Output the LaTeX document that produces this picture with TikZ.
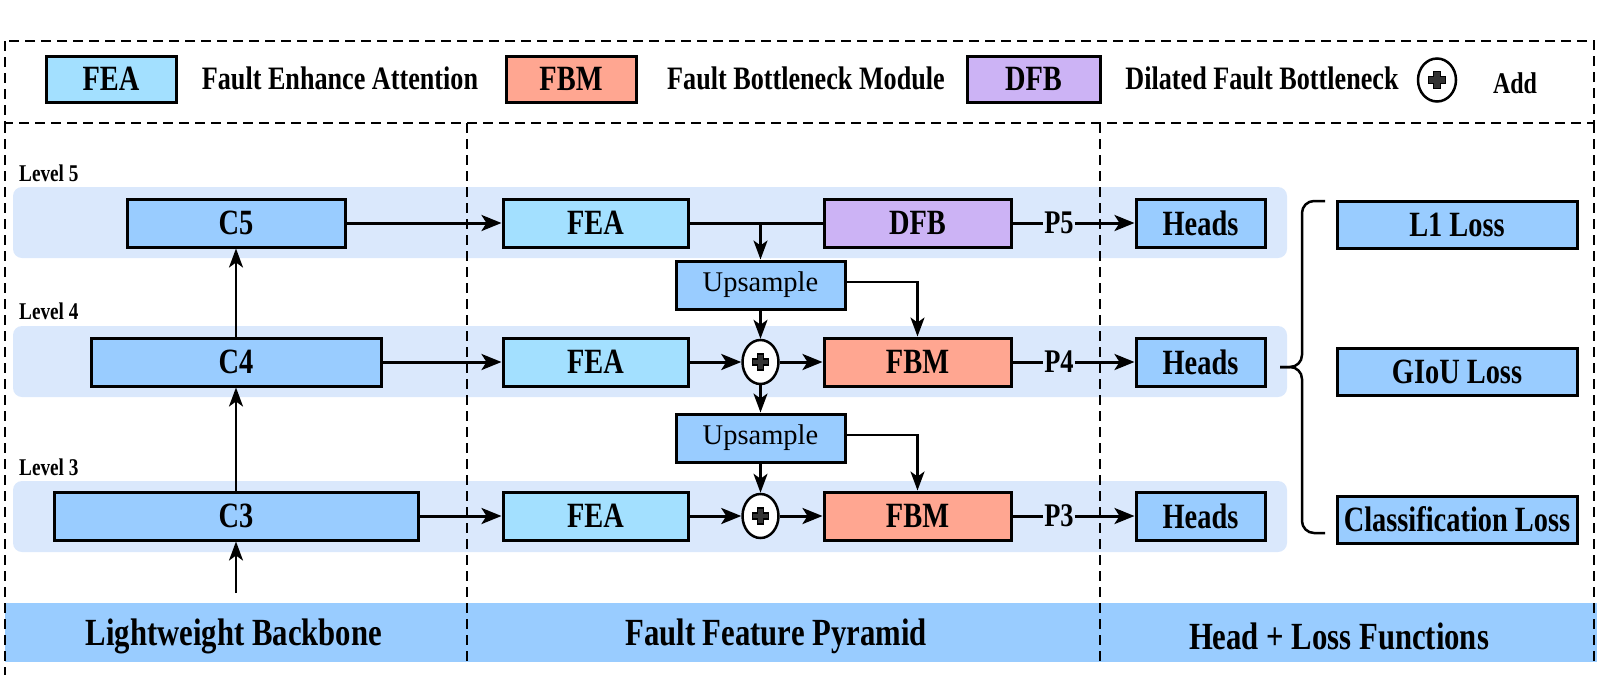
\documentclass[tikz,border=0pt]{standalone}
\usepackage{fontspec}
\setmainfont{Liberation Serif}[BoldFeatures={FakeStretch=0.8}]
\usetikzlibrary{arrows.meta,shapes.geometric}
\definecolor{boxblue}{HTML}{99CCFF}
\definecolor{feacol}{HTML}{A3E0FF}
\definecolor{fbmcol}{HTML}{FFA691}
\definecolor{dfbcol}{HTML}{CCB3F5}
\definecolor{bandcol}{HTML}{DAE8FC}
\newcommand\mkcross[2]{\filldraw[fill=gray!40!black, draw=black, line width=1.2pt, shift={(#1)}, scale=#2]
  (-3,-8) -- (3,-8) -- (3,-3) -- (8,-3) -- (8,3) -- (3,3) -- (3,8) -- (-3,8) -- (-3,3) -- (-8,3) -- (-8,-3) -- (-3,-3) -- cycle;}
\tikzset{
 blk/.style={draw=black, line width=3pt, minimum height=48pt, inner sep=0pt, font=\bfseries\fontsize{35.5}{40}\selectfont},
 bluebox/.style={blk, fill=boxblue},
 feabox/.style={blk, fill=feacol},
 fbmbox/.style={blk, fill=fbmcol},
 dfbbox/.style={blk, fill=dfbcol},
 upbox/.style={draw=black, line width=3pt, fill=boxblue, minimum width=169pt, minimum height=48pt, inner sep=0pt, font=\fontsize{28.5}{32}\selectfont},
 addnode/.style={ellipse, draw=black, line width=2.5pt, fill=white, minimum width=36pt, minimum height=44pt, inner sep=0pt},
 arr/.style={line width=3pt, -{Stealth[length=20pt,width=16pt,inset=5pt]}},
 arrv/.style={line width=2.5pt, -{Stealth[length=19pt,width=14pt,inset=5pt]}},
 ln/.style={line width=3pt},
 divider/.style={dash pattern=on 10pt off 6pt, line width=2.5pt},
 band/.style={fill=bandcol, rounded corners=9pt},
 lvl/.style={anchor=base west, inner sep=0pt, font=\bfseries\fontsize{24}{27}\selectfont},
 plab/.style={inner sep=1pt, font=\bfseries\fontsize{33}{37}\selectfont},
 legtxt/.style={inner sep=0pt, font=\bfseries\fontsize{32.7}{37}\selectfont},
 bottomtxt/.style={inner sep=0pt, font=\bfseries\fontsize{38.4}{43}\selectfont},
}
\begin{document}
\begin{tikzpicture}[x=1pt,y=-1pt]
\useasboundingbox (0,0) rectangle (1600,675);
% bottom band
\fill[boxblue] (5,603) rectangle (1597,662);
% level bands
\fill[band] (13,187) rectangle (1287,258);
\fill[band] (13,326) rectangle (1287,397);
\fill[band] (13,481) rectangle (1287,552);
% dashed frames
\draw[divider] (5,41) rectangle (1594,123);
\draw[divider] (5,123) -- (5,675);
\draw[divider] (1594,123) -- (1594,665);
\draw[divider] (467,123) -- (467,665);
\draw[divider] (1100,123) -- (1100,665);

% legend
\node[feabox, minimum width=130pt, minimum height=46pt] (lfea) at (111,79) {FEA};
\node[legtxt] (tfea) at (340,78) {Fault Enhance Attention};
\node[fbmbox, minimum width=130pt, minimum height=46pt] (lfbm) at (571,79) {FBM};
\node[legtxt] (tfbm) at (806,78) {Fault Bottleneck Module};
\node[dfbbox, minimum width=133pt, minimum height=46pt] (ldfb) at (1033.5,79) {DFB};
\node[legtxt] (tdfb) at (1262,78) {Dilated Fault Bottleneck};
\node[addnode, minimum width=38pt, minimum height=43pt] (ladd) at (1437,80) {};
\mkcross{ladd.center}{1.05}
\node[legtxt, font=\bfseries\fontsize{30}{34}\selectfont] (tadd) at (1515,83) {Add};

% bottom labels
\node[bottomtxt] (bl1) at (234,636) {Lightweight Backbone};
\node[bottomtxt] (bl2) at (776,636) {Fault Feature Pyramid};
\node[bottomtxt] (bl3) at (1339,636) {Head + Loss Functions};

% level labels
\node[lvl] (lv5) at (19,181) {Level 5};
\node[lvl] (lv4) at (19,319) {Level 4};
\node[lvl] (lv3) at (19,475) {Level 3};

% backbone
\node[bluebox, minimum width=218pt] (c5) at (236,223) {C5};
\node[bluebox, minimum width=290pt] (c4) at (236,362) {C4};
\node[bluebox, minimum width=364pt] (c3) at (236,516) {C3};

% pyramid
\node[feabox, minimum width=185pt] (fea5) at (595.5,223) {FEA};
\node[feabox, minimum width=185pt] (fea4) at (595.5,362) {FEA};
\node[feabox, minimum width=185pt] (fea3) at (595.5,516) {FEA};
\node[dfbbox, minimum width=187pt] (dfb) at (917.5,223) {DFB};
\node[fbmbox, minimum width=187pt] (fbm4) at (917.5,362) {FBM};
\node[fbmbox, minimum width=187pt] (fbm3) at (917.5,516) {FBM};
\node[upbox] (up1) at (760.5,285) {Upsample};
\node[upbox] (up2) at (760.5,438) {Upsample};
\node[addnode] (add4) at (760.5,362) {};
\node[addnode] (add3) at (760.5,516) {};
\mkcross{add4.center}{1}
\mkcross{add3.center}{1}

% P labels
\node[plab] (p5) at (1059,223) {P5};
\node[plab] (p4) at (1059,362) {P4};
\node[plab] (p3) at (1059,516) {P3};

% heads
\node[bluebox, minimum width=129pt] (h5) at (1200.5,223) {Heads};
\node[bluebox, minimum width=129pt] (h4) at (1200.5,362) {Heads};
\node[bluebox, minimum width=129pt] (h3) at (1200.5,516) {Heads};

% losses
\node[bluebox, minimum width=240pt, minimum height=47pt] (l1) at (1457,224.5) {L1 Loss};
\node[bluebox, minimum width=240pt, minimum height=47pt] (gl) at (1457,371.5) {GIoU Loss};
\node[bluebox, minimum width=240pt, minimum height=47pt] (cl) at (1457,519.5) {Classification Loss};

% connectors backbone
\coordinate (inp) at (236,593);
\draw[arrv] (inp) -- (c3);
\draw[arrv] (c3) -- (c4);
\draw[arrv] (c4) -- (c5);
\draw[arr] (c5) -- (fea5);
\draw[arr] (c4) -- (fea4);
\draw[arr] (c3) -- (fea3);

% pyramid connectors
\draw[ln] (fea5) -- (dfb);
\draw[arrv] (fea5.east -| up1.north) -- (up1.north);
\draw[arrv] (up1) -- (add4);
\draw[arrv] ([yshift=3pt]up1.east) -| (fbm4.north);
\draw[arr] (fea4) -- (add4);
\draw[arr] (add4) -- (fbm4);
\draw[arrv] (add4) -- (up2);
\draw[arrv] (up2) -- (add3);
\draw[arrv] ([yshift=3pt]up2.east) -| (fbm3.north);
\draw[arr] (fea3) -- (add3);
\draw[arr] (add3) -- (fbm3);

% outputs
\draw[ln] (dfb) -- (p5);
\draw[arr] (p5) -- (h5);
\draw[ln] (fbm4) -- (p4);
\draw[arr] (p4) -- (h4);
\draw[ln] (fbm3) -- (p3);
\draw[arr] (p3) -- (h3);

% brace
\coordinate (btop) at (1325,201);
\coordinate (bbot) at (1325,533);
\coordinate (bjoin) at (1302,367);
\coordinate (btip) at (1280,367);
\draw[line width=2.5pt, rounded corners=12pt] (btop) -| (bjoin) -- (btip);
\draw[line width=2.5pt, rounded corners=12pt] (bbot) -| (bjoin) -- (btip);
\end{tikzpicture}
\end{document}
